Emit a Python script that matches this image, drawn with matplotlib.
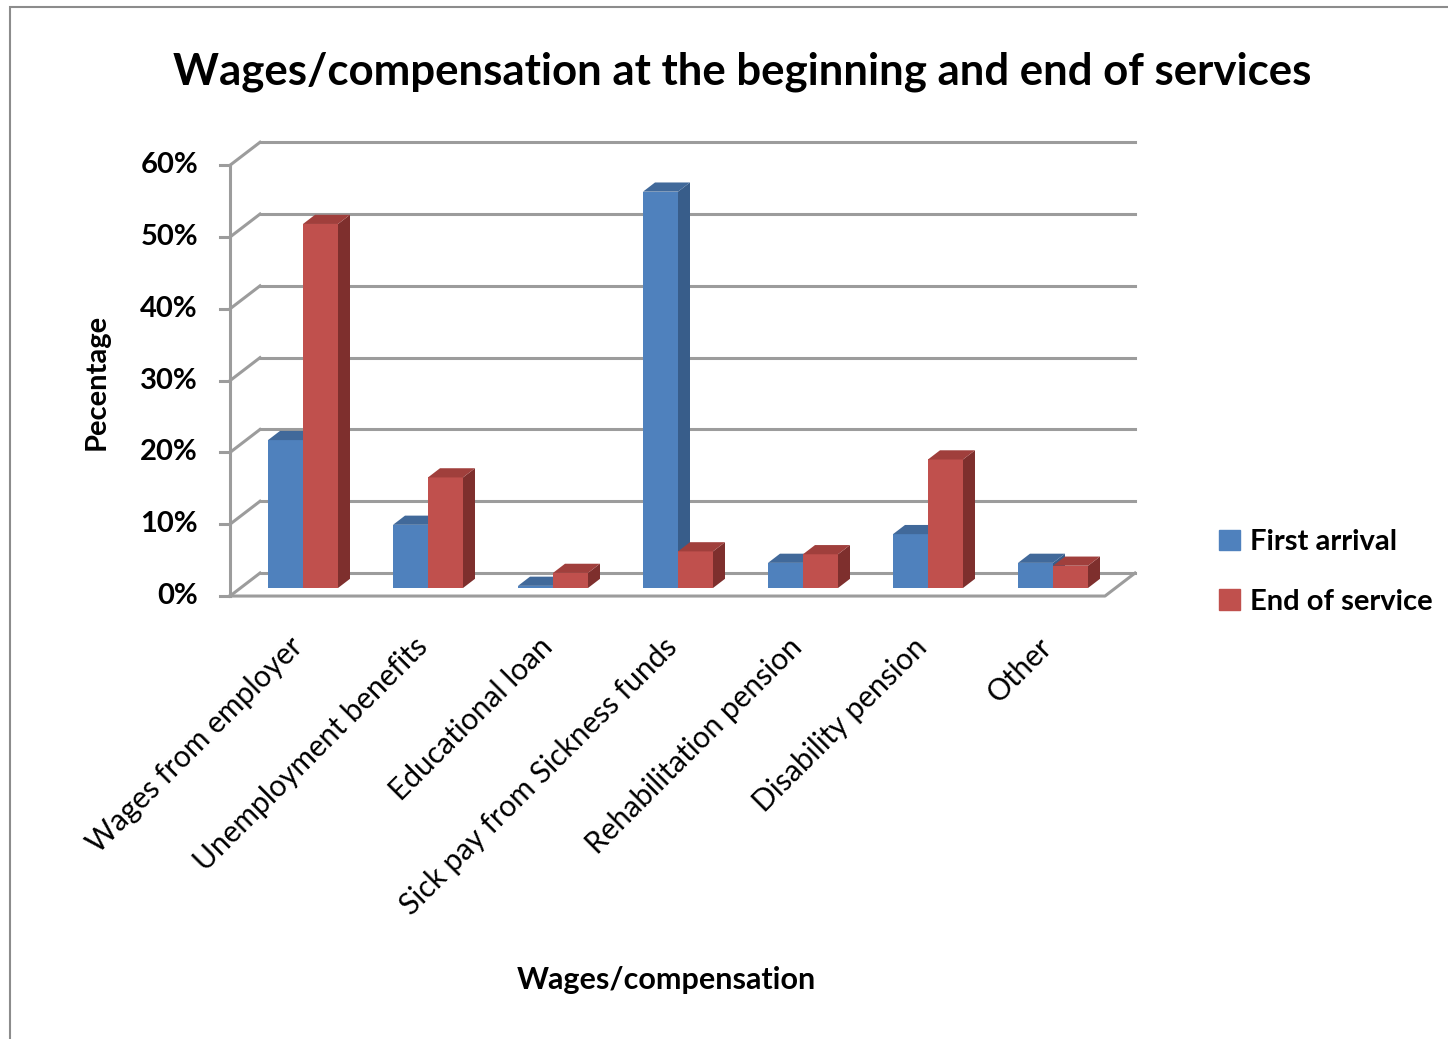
import matplotlib.pyplot as plt
from matplotlib.patches import Rectangle, Patch
import numpy as np

categories = ["Wages from employer", "Unemployment benefits", "Educational loan",
              "Sick pay from Sickness funds", "Rehabilitation pension",
              "Disability pension", "Other"]
series = ["First arrival", "End of service"]
first_arrival = [20.6, 8.8, 0.3, 55.2, 3.5, 7.5, 3.5]
end_of_service = [50.7, 15.4, 2.1, 5.1, 4.7, 17.9, 3.1]
y_ticks = [0, 10, 20, 30, 40, 50, 60]
tick_labels = ["0%", "10%", "20%", "30%", "40%", "50%", "60%"]

FONT = "Lato"
blue = ("#4F81BD", "#385D8A", "#41699A")   # front, side, top
red = ("#C0504D", "#7E2F2D", "#A03F3C")
grid_c = "#9C9C9C"

# oblique projection: full depth of floor in data units
DX, DY = 0.24, 3.2
F = 0.35          # bar plane sits this far into the depth
BD = 0.4          # bar depth as fraction of full depth
bw = 0.28

fig = plt.figure(figsize=(14.48, 10.39), dpi=100)
W, H = 1448, 1039
# axes placed so that data maps to pixel coordinates of the reference
px_l, px_r, px_t, px_b = 150, 1200, 120, 640
ax = fig.add_axes([px_l / W, 1 - px_b / H, (px_r - px_l) / W, (px_b - px_t) / H])
ax.set_xlim((px_l - 303) / 125, (px_r - 303) / 125)
ax.set_ylim((588 - px_b) / 7.18, (588 - px_t) / 7.18)
ax.axis("off")

x0, x1 = -0.5, 6.5
fx, fy = -F * DX, -F * DY
bx, by = (1 - F) * DX, (1 - F) * DY

# walls: gridlines on back wall and left wall
for v, lab in zip(y_ticks, tick_labels):
    ax.plot([x0 + bx, x1 + bx], [v + by, v + by], color=grid_c, lw=2.2, zorder=1)
    ax.plot([x0 + fx, x0 + bx], [v + fy, v + by], color=grid_c, lw=2.2, zorder=1)
    ax.plot([x0 + fx - 0.08, x0 + fx], [v + fy, v + fy], color=grid_c, lw=2.2, zorder=1)
    ax.text(-0.84, v + fy, lab, ha="right", va="center",
            fontsize=21, fontweight="bold", family=FONT)
ax.plot([x0 + fx, x0 + fx], [fy, y_ticks[-1] + fy], color=grid_c, lw=2.2, zorder=1)
# floor
ax.plot([x0 + fx, x1 + fx, x1 + bx], [fy, fy, by], color=grid_c, lw=2.2, zorder=1)

ddx, ddy = BD * DX, BD * DY
x = np.arange(len(categories))
for i in x:
    for j, (vals, cols) in enumerate([(first_arrival, blue), (end_of_service, red)]):
        left = i - bw + j * bw
        h = vals[i]
        z = 3 + i * 2 + j
        ax.bar(left, h, width=bw, align="edge", color=cols[0], zorder=z, lw=0)
        ax.fill([left + bw, left + bw + ddx, left + bw + ddx, left + bw],
                [0, ddy, h + ddy, h], color=cols[1], zorder=z, lw=0)
        ax.fill([left, left + bw, left + bw + ddx, left + ddx],
                [h, h, h + ddy, h + ddy], color=cols[2], zorder=z, lw=0)
    ax.text(i - 0.12, -6.2, categories[i], rotation=45, ha="right", va="top",
            rotation_mode="anchor", fontsize=21.5, family=FONT)

fig.text(742 / W, 1 - 72 / H, "Wages/compensation at the beginning and end of services",
         ha="center", va="center", fontsize=31.5, fontweight="bold", family=FONT)
fig.text(97 / W, 1 - 382 / H, "Pecentage", rotation=90, ha="center", va="center",
         fontsize=21, fontweight="bold", family=FONT)
fig.text(666 / W, 1 - 980 / H, "Wages/compensation", ha="center", va="center",
         fontsize=22, fontweight="bold", family=FONT)

handles = [Patch(color=blue[0]), Patch(color=red[0])]
fig.legend(handles, series, loc="upper left", bbox_to_anchor=(1193 / W, 1 - 503 / H),
           frameon=False, handlelength=0.7, handleheight=0.7, handletextpad=0.35,
           labelspacing=1.15, prop={"family": FONT, "size": 21, "weight": "bold"})

fig.add_artist(Rectangle((10 / W, -0.01), 1.05, 1 - 7 / H + 0.01, transform=fig.transFigure,
                         fill=False, edgecolor="#8C8C8C", lw=1.5))

fig.savefig("out.png", dpi=100)
